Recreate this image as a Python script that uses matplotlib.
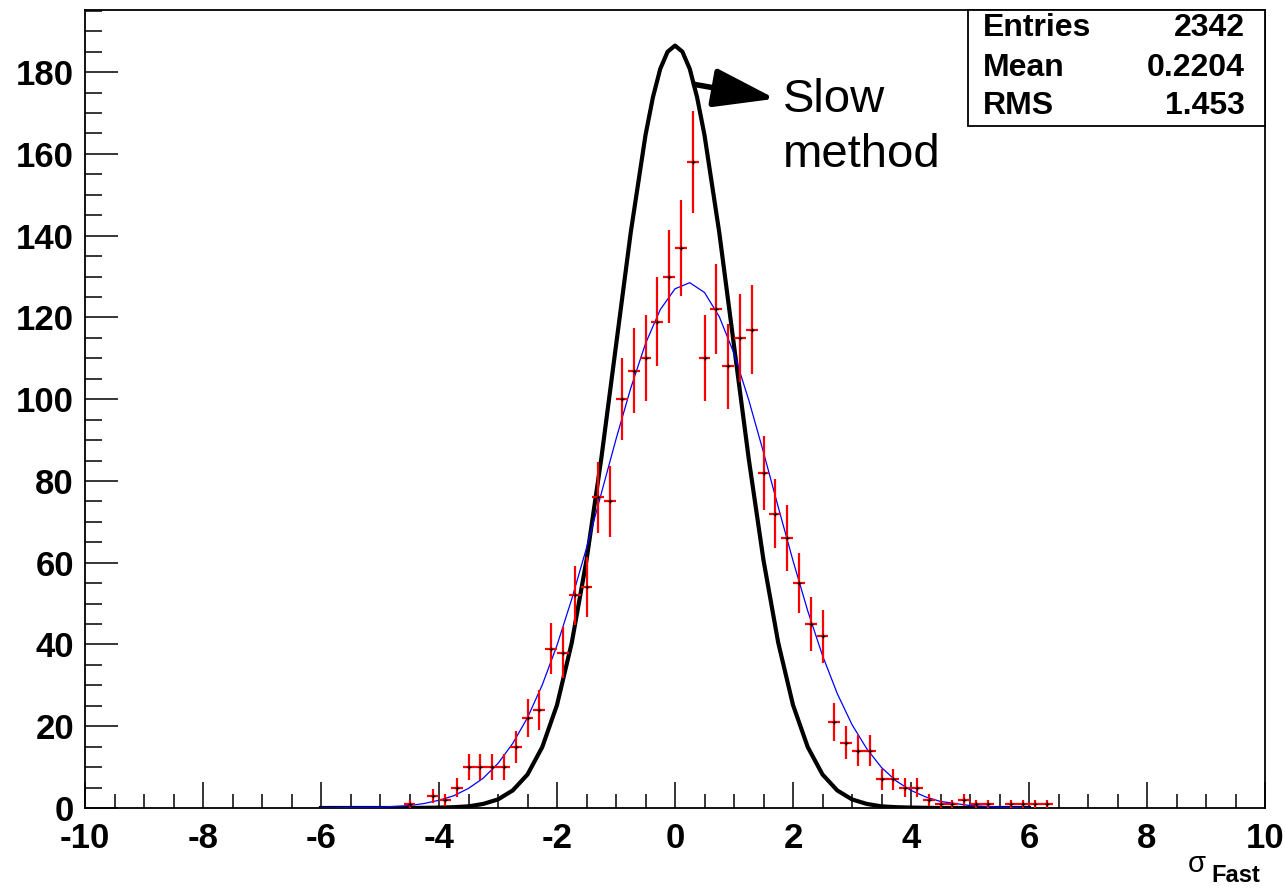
import matplotlib
matplotlib.use("Agg")
import matplotlib.pyplot as plt
from matplotlib.patches import Rectangle
from matplotlib.ticker import MultipleLocator

plt.rcParams['font.family'] = ['Liberation Sans', 'DejaVu Sans']
plt.rcParams['axes.unicode_minus'] = False

# histogram bins (centre, counts), bin width 0.2
bin_centers = [-4.5, -4.1, -3.9, -3.7, -3.5, -3.3, -3.1, -2.9, -2.7, -2.5,
               -2.3, -2.1, -1.9, -1.7, -1.5, -1.3, -1.1, -0.9, -0.7, -0.5,
               -0.3, -0.1, 0.1, 0.3, 0.5, 0.7, 0.9, 1.1, 1.3, 1.5,
               1.7, 1.9, 2.1, 2.3, 2.5, 2.7, 2.9, 3.1, 3.3, 3.5,
               3.7, 3.9, 4.1, 4.3, 4.5, 4.7, 4.9, 5.1, 5.3, 5.7,
               5.9, 6.1, 6.3]
counts = [1, 3, 2, 5, 10, 10, 10, 10, 15, 22,
          24, 39, 38, 52, 54, 76, 75, 100, 107, 110,
          119, 130, 137, 158, 110, 122, 108, 115, 117, 82,
          72, 66, 55, 45, 42, 21, 16, 14, 14, 7,
          7, 5, 5, 2, 1, 1, 2, 1, 1, 1,
          1, 1, 1]
bin_half = 0.1

# fitted curve of the fast method (blue)
fit_x = [-6, -5.5, -5, -4.5, -4.25, -4, -3.75, -3.5, -3.25, -3,
         -2.75, -2.5, -2.25, -2, -1.75, -1.5, -1.25, -1, -0.75, -0.5,
         -0.25, 0, 0.25, 0.5, 0.75, 1, 1.25, 1.5, 1.75, 2,
         2.25, 2.5, 2.75, 3, 3.25, 3.5, 3.75, 4, 4.25, 4.5,
         5, 5.5, 6]
fit_y = [0.0, 0.1, 0.2, 0.6, 1.1, 1.9, 3.0, 4.8, 7.3, 10.9,
         15.8, 22.1, 30.1, 39.8, 51.1, 63.6, 76.9, 90.2, 102.7, 113.6,
         121.9, 127.0, 128.5, 126.1, 120.2, 111.2, 99.8, 87.0, 73.6, 60.5,
         48.2, 37.3, 28.0, 20.4, 14.5, 9.9, 6.6, 4.3, 2.7, 1.6,
         0.6, 0.2, 0.0]

# slow method curve (black)
slow_x = [-6, -5, -4.5, -4, -3.75, -3.5, -3.25, -3, -2.75, -2.5,
          -2.25, -2, -1.75, -1.5, -1.25, -1, -0.75, -0.5, -0.375, -0.25,
          -0.125, 0, 0.125, 0.25, 0.375, 0.5, 0.75, 1, 1.25, 1.5,
          1.75, 2, 2.25, 2.5, 2.75, 3, 3.25, 3.5, 3.75, 4,
          4.5, 5, 6]
slow_y = [0.0, 0.0, 0.0, 0.1, 0.2, 0.4, 1.0, 2.1, 4.3, 8.2,
          14.9, 25.2, 40.4, 60.6, 85.4, 113.1, 140.8, 164.6, 173.8, 180.8,
          185.0, 186.5, 185.0, 180.8, 173.8, 164.6, 140.8, 113.1, 85.4, 60.6,
          40.4, 25.2, 14.9, 8.2, 4.3, 2.1, 1.0, 0.4, 0.2, 0.1,
          0.0, 0.0, 0.0]

stats_names = ['Entries', 'Mean', 'RMS']
stats_values = ['2342', '0.2204', '1.453']

W, H = 1285, 890
fig = plt.figure(figsize=(W / 100, H / 100), dpi=100)
ax = fig.add_axes([85 / W, 82 / H, 1180 / W, 798 / H])

ax.plot(slow_x, slow_y, color='black', lw=3.0, zorder=2)
ax.plot(fit_x, fit_y, color='#0000ff', lw=0.9, zorder=3)
errs = [c ** 0.5 for c in counts]
ax.errorbar(bin_centers, counts, yerr=errs, xerr=bin_half, fmt='none',
            ecolor='#ff0000', elinewidth=1.6, capsize=0, zorder=4)
ax.plot(bin_centers, counts, ls='none', marker='+', ms=3.5, mew=0.9,
        color='black', zorder=5)

ax.set_xlim(-10, 10)
ax.set_ylim(0, 195.2)

ax.xaxis.set_major_locator(MultipleLocator(2))
ax.xaxis.set_minor_locator(MultipleLocator(0.5))
ax.yaxis.set_major_locator(MultipleLocator(20))
ax.yaxis.set_minor_locator(MultipleLocator(5))
ax.tick_params(axis='both', which='both', direction='in', top=False, right=False,
               width=1.1, colors='black', labelsize=25)
ax.tick_params(axis='x', which='major', length=19, pad=10)
ax.tick_params(axis='x', which='minor', length=10)
ax.tick_params(axis='y', which='major', length=24, pad=8)
ax.tick_params(axis='y', which='minor', length=12)
for lab in ax.get_xticklabels() + ax.get_yticklabels():
    lab.set_fontweight('bold')
for sp in ax.spines.values():
    sp.set_linewidth(1.3)

# annotation for the slow method
ax.annotate('', xy=(1.7, 173.5), xytext=(0.33, 177.0),
            arrowprops=dict(arrowstyle='-|>,head_length=3.8,head_width=1.2',
                            color='black', lw=4, shrinkA=0, shrinkB=0),
            zorder=6)
ax.text(1.83, 170.3, 'Slow', fontsize=34, va='baseline', ha='left')
ax.text(1.83, 156.8, 'method', fontsize=34, va='baseline', ha='left')

# stats box
box = Rectangle((968 / W, 1 - 126 / H), 297 / W, 116 / H, transform=fig.transFigure,
                facecolor='white', edgecolor='black', lw=1.3, zorder=10)
fig.add_artist(box)
for name, val, base in zip(stats_names, stats_values, [36, 76, 114]):
    fig.text(983 / W, 1 - base / H, name, fontsize=23, fontweight='bold',
             va='baseline', ha='left', zorder=11)
    fig.text(1245 / W, 1 - base / H, val, fontsize=23, fontweight='bold',
             va='baseline', ha='right', zorder=11)

# axis title
fig.text(1188 / W, 1 - 872 / H, '\u03c3', fontsize=21, va='baseline', ha='left')
fig.text(1211 / W, 1 - 882 / H, 'Fast', fontsize=17, fontweight='bold',
         va='baseline', ha='left')

fig.savefig('out.png', dpi=100)
